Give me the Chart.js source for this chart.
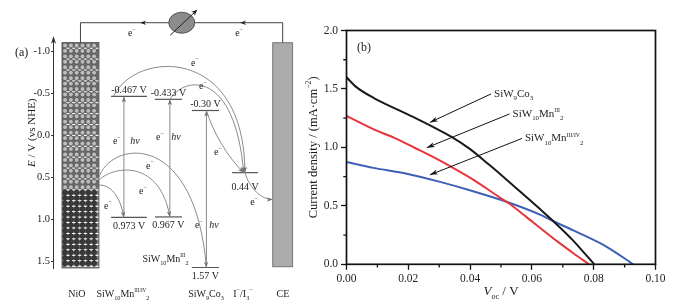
<!DOCTYPE html>
<html><head><meta charset="utf-8">
<script src="https://cdn.jsdelivr.net/npm/chart.js@4.4.0/dist/chart.umd.min.js"></script>
<style>
html,body{margin:0;padding:0;background:#fff;}
#wrap{position:relative;width:674px;height:308px;overflow:hidden;background:#fff;}
#ca{position:absolute;left:0;top:0;width:300px;height:308px;}
#cb{position:absolute;left:290px;top:0;width:384px;height:308px;}
</style></head><body>
<div id="wrap"><canvas id="ca" width="300" height="308"></canvas><canvas id="cb" width="384" height="308"></canvas></div>
<script>
// ---------------- DATA ----------------
// Panel (b): J-V curves (V_oc / V, current density / mA cm^-2)
const seriesNames = ['SiW_{9}Co_{3}', 'SiW_{10}Mn^{III}_{2}', 'SiW_{10}Mn^{III/IV}_{2}'];
const vCo3  = [0, 0.003, 0.009, 0.016, 0.022, 0.028, 0.034, 0.040, 0.046, 0.052, 0.058, 0.0627, 0.0669, 0.0733, 0.0775, 0.0802];
const jCo3  = [1.60, 1.52, 1.42, 1.33, 1.255, 1.175, 1.09, 0.985, 0.855, 0.72, 0.58, 0.47, 0.37, 0.205, 0.08, 0];
const vMn3  = [0, 0.0092, 0.0157, 0.0222, 0.0286, 0.0335, 0.041, 0.0497, 0.0525, 0.058, 0.0627, 0.068, 0.0734, 0.0785];
const jMn3  = [1.27, 1.15, 1.08, 0.995, 0.91, 0.84, 0.725, 0.57, 0.522, 0.41, 0.31, 0.20, 0.095, 0];
const vMn34 = [0, 0.0087, 0.0195, 0.0303, 0.041, 0.0518, 0.0626, 0.0669, 0.0734, 0.0842, 0.0928];
const jMn34 = [0.875, 0.825, 0.775, 0.705, 0.625, 0.535, 0.425, 0.37, 0.29, 0.15, 0];
const xTicksB = [0, 0.02, 0.04, 0.06, 0.08, 0.10];
const yTicksB = [0, 0.5, 1.0, 1.5, 2.0];
const xMinorB = [0.01, 0.03, 0.05, 0.07, 0.09];
const yMinorB = [0.25, 0.75, 1.25, 1.75];

// Panel (a): energy levels, E / V vs NHE
const dyes = ['SiW_{10}Mn^{III/IV}_{2}', 'SiW_{10}Mn^{III}_{2}', 'SiW_{9}Co_{3}'];
const lumo = [-0.467, -0.433, -0.30];
const homo = [0.973, 0.967, 1.57];
const lumoDigits = [3, 3, 2];
const homoDigits = [3, 3, 2];
const redoxName = 'I^{−}/I_{3}^{−}';
const redox = [0.44];
const eTicksA = [-1.0, -0.5, 0.0, 0.5, 1.0, 1.5];

// ---------------- LAYOUT (panel a, x in 0..100 units) ----------------
const colA = {
  nio: [3.7, 19.0], nioTop: -1.11, nioBot: 1.575, nioVB: 0.62,
  dye: [[24, 38.8], [42.1, 53.3], [57.4, 68.6]],
  dyeArrow: [29.3, 48.3, 63.4],
  redox: [74.0, 84.7],
  ce: [90.8, 99.0], ceTop: -1.107, ceBot: 1.56,
  wireE: -1.345, meterU: 53.2
};
const FAM = '"Liberation Serif","Times New Roman",Times,serif';
const INK = '#1c1c1c';

function parseMarkup(s){
  const parts=[]; const re=/([_^])\{([^}]*)\}|([^_^]+)/g; let m;
  while((m=re.exec(s))){ if(m[3]) parts.push([m[3],'n']); else parts.push([m[2], m[1]==='_'?'sub':'sup']); }
  return parts;
}
function plain(s){ return s.replace(/[_^]\{([^}]*)\}/g,'$1'); }
function drawParts(ctx, parts, x, yBase, size, align, color){
  const segs = parts.map(([t,m='n',st=''])=>{
    const fs = m==='n'?size:(m==='sup' && /[IVX]/.test(t) ? size*0.52 : size*0.62);
    const f = (st.includes('i')?'italic ':'') + fs+'px '+FAM;
    ctx.font=f; return {t,m,f,w:ctx.measureText(t).width};
  });
  const total = segs.reduce((a,s)=>a+s.w,0);
  let cx = align==='center'?x-total/2:align==='right'?x-total:x;
  ctx.fillStyle=color||INK; ctx.textAlign='left'; ctx.textBaseline='alphabetic';
  segs.forEach(s=>{const dy=s.m==='sub'?size*0.3:s.m==='sup'?-size*0.42:0; ctx.font=s.f; ctx.fillText(s.t,cx,yBase+dy); cx+=s.w;});
  return total;
}
function head(ctx, x, y, ang, len, half, color){
  ctx.save(); ctx.translate(x,y); ctx.rotate(ang);
  ctx.beginPath(); ctx.moveTo(0,0); ctx.lineTo(-len, half); ctx.lineTo(-len*0.7,0); ctx.lineTo(-len,-half); ctx.closePath();
  ctx.fillStyle=color; ctx.fill(); ctx.restore();
}
const eMinus = [['e'],['−','sup']];

// ---------------- PANEL (a) ----------------
function seg(xr, e){ return {data:[{x:xr[0],y:e},{x:xr[1],y:e}], borderColor:'#555', borderWidth:1.2, pointRadius:0, showLine:true}; }
const levelSets = [];
dyes.forEach((d,i)=>{ levelSets.push(Object.assign(seg(colA.dye[i], lumo[i]),{label:plain(d)+' LUMO'})); levelSets.push(Object.assign(seg(colA.dye[i], homo[i]),{label:plain(d)+' HOMO'})); });
levelSets.push(Object.assign(seg(colA.redox, redox[0]),{label:plain(redoxName)}));

function drawNiO(ctx, x0, x1, yTop, yBot, yVB){
  ctx.fillStyle='#6c6c6c'; ctx.fillRect(x0,yTop,x1-x0,yVB-yTop);
  ctx.fillStyle='#7e7e7e'; ctx.fillRect(x0,yVB,x1-x0,yBot-yVB);
  const r=2.45, dx=(x1-x0-1)/6.2, dy=5.45;
  let row=0;
  for(let y=yTop+3; y<yBot-1.5; y+=dy, row++){
    const dark = y>yVB;
    for(let k=0;k<6;k++){
      const cx = x0+3.1+k*dx;
      ctx.beginPath(); ctx.arc(cx,y,r,0,Math.PI*2);
      ctx.fillStyle = dark?'#3a3a3a':'#bdbdbd'; ctx.fill();
      ctx.lineWidth=0.7; ctx.strokeStyle= dark?'#222':'#4d4d4d'; ctx.stroke();
    }
    if(row%2===0 || dark){
      ctx.fillStyle='#ffffff';
      for(let k=0;k<6;k++){ const cx=x0+3.1+k*dx+dx/2; ctx.fillRect(cx-1.8, y+dy/2-0.5, 3.6, 1.1); }
    }
  }
  ctx.strokeStyle='#555'; ctx.lineWidth=0.8; ctx.strokeRect(x0,yTop,x1-x0,yBot-yTop);
}

const pluginA = {
  id:'decorA',
  beforeDatasetsDraw(chart){
    const {ctx, scales:{x,y}} = chart; const X=u=>x.getPixelForValue(u), Y=e=>y.getPixelForValue(e);
    ctx.save();
    drawNiO(ctx, X(colA.nio[0]), X(colA.nio[1]), Y(colA.nioTop), Y(colA.nioBot), Y(colA.nioVB));
    // CE
    ctx.fillStyle='#ababab'; ctx.fillRect(X(colA.ce[0]),Y(colA.ceTop),X(colA.ce[1])-X(colA.ce[0]),Y(colA.ceBot)-Y(colA.ceTop));
    ctx.strokeStyle='#777'; ctx.lineWidth=1; ctx.strokeRect(X(colA.ce[0]),Y(colA.ceTop),X(colA.ce[1])-X(colA.ce[0]),Y(colA.ceBot)-Y(colA.ceTop));
    // wires
    const wY=Y(colA.wireE), xl=(X(colA.nio[0])+X(colA.nio[1]))/2, xr=(X(colA.ce[0])+X(colA.ce[1]))/2;
    ctx.strokeStyle='#444'; ctx.lineWidth=1;
    ctx.beginPath(); ctx.moveTo(xl,Y(colA.nioTop)); ctx.lineTo(xl,wY); ctx.lineTo(xr,wY); ctx.lineTo(xr,Y(colA.ceTop)); ctx.stroke();
    head(ctx, X(36), wY, Math.PI, 6, 2.2, '#222');
    head(ctx, X(77.3), wY, Math.PI, 6, 2.2, '#222');
    // meter
    const mx=X(colA.meterU);
    ctx.beginPath(); ctx.ellipse(mx,wY,13,10.5,0,0,Math.PI*2); ctx.fillStyle='#8c8c8c'; ctx.fill(); ctx.strokeStyle='#555'; ctx.lineWidth=1; ctx.stroke();
    ctx.beginPath(); ctx.moveTo(mx-11.5,wY+12.5); ctx.lineTo(mx+14,wY-11.5); ctx.strokeStyle='#222'; ctx.lineWidth=1; ctx.stroke();
    head(ctx, mx+15.5, wY-13, Math.atan2(-24,25.5), 6, 2.5, '#111');
    drawParts(ctx, eMinus, X(32.6), Y(-1.223)+3.5, 10, 'center');
    drawParts(ctx, eMinus, X(76.9), Y(-1.223)+3.5, 10, 'center');
    ctx.restore();
  },
  afterDatasetsDraw(chart){
    const {ctx, chartArea:ca, scales:{x,y}} = chart; const X=u=>x.getPixelForValue(u), Y=e=>y.getPixelForValue(e);
    ctx.save();
    const gray='#8a8a8a', headC='#707070';
    // vertical excitation arrows
    dyes.forEach((d,i)=>{
      const ax=X(colA.dyeArrow[i]);
      ctx.beginPath(); ctx.moveTo(ax,Y(homo[i])); ctx.lineTo(ax,Y(lumo[i])+1); ctx.strokeStyle=gray; ctx.lineWidth=1; ctx.stroke();
      head(ctx, ax, Y(lumo[i]), -Math.PI/2, 6, 2.2, headC);
    });
    // electron transfer curves [u,E]
    const dC = colA.dyeArrow;
    const curves = [
      {p:[[colA.nio[1],0.492],[24.4,0.051],[58.7,-0.068],[dC[2],homo[2]]], lab:[40.1,0.349]},
      {p:[[colA.nio[1],0.527],[25.6,0.349],[44.2,0.289],[dC[1],homo[1]]], lab:[37.2,0.658]},
      {p:[[colA.nio[1],0.587],[23.6,0.587],[27.7,0.706],[dC[0],homo[0]]], lab:[22.7,0.825]},
      {p:[[colA.dye[0][0]+1,lumo[0]],[33.9,-1.02],[79.3,-1.08],[79.3,redox[0]]], lab:[58.7,-0.877]},
      {p:[[dC[1],lumo[1]],[54.5,-0.72],[75.2,-0.78],[78.8,redox[0]]], lab:[62.0,-0.592]},
      {p:[[dC[2],lumo[2]],[66,-0.05],[72,0.25],[78.8,redox[0]]], lab:[68.2,0.194]},
      {p:[[79.3,redox[0]],[81.4,0.64],[86.4,0.76],[colA.ce[0],0.76]], lab:[83.1,0.789]}
    ];
    curves.forEach(c=>{
      const P=c.p.map(([u,e])=>[X(u),Y(e)]);
      ctx.beginPath(); ctx.moveTo(P[0][0],P[0][1]); ctx.bezierCurveTo(P[1][0],P[1][1],P[2][0],P[2][1],P[3][0],P[3][1]);
      ctx.strokeStyle=gray; ctx.lineWidth=1; ctx.stroke();
      head(ctx, P[3][0], P[3][1], Math.atan2(P[3][1]-P[2][1], P[3][0]-P[2][0]), 6, 2.2, headC);
      drawParts(ctx, eMinus, X(c.lab[0]), Y(c.lab[1])+3.5, 10, 'center');
    });
    // e- hv labels
    const ehv = [[26.4,33.9,0.063],[44.2,50.8,0.015],[60.3,66.5,1.063]];
    ehv.forEach(([ue,uh,e])=>{
      drawParts(ctx, eMinus, X(ue), Y(e)+3.5, 10, 'center');
      drawParts(ctx, [['hν','n','i']], X(uh), Y(e)+3.5, 10, 'center');
    });
    // level labels
    dyes.forEach((d,i)=>{
      const cx=(X(colA.dye[i][0])+X(colA.dye[i][1]))/2;
      drawParts(ctx, [[lumo[i].toFixed(lumoDigits[i])+' V']], cx, Y(lumo[i])-3.5, 10, 'center');
      drawParts(ctx, [[homo[i].toFixed(homoDigits[i])+' V']], cx, Y(homo[i])+11.5, 10, 'center');
    });
    drawParts(ctx, [[redox[0].toFixed(2)+' V']], (X(colA.redox[0])+X(colA.redox[1]))/2, Y(redox[0])+17, 10, 'center');
    // names
    const yb = Y(1.874)+3.5;
    drawParts(ctx, [['NiO']], X(9.9), yb, 10, 'center');
    drawParts(ctx, parseMarkup(dyes[0]), X(28.9), yb, 10, 'center');
    drawParts(ctx, parseMarkup(dyes[2]), X(63.2), yb, 10, 'center');
    drawParts(ctx, parseMarkup(redoxName), X(78.5), yb, 10, 'center');
    drawParts(ctx, [['CE']], X(95.0), yb, 10, 'center');
    drawParts(ctx, parseMarkup(dyes[1]), X(46.5), Y(1.456)+3.5, 10, 'center');
    // axis arrow
    head(ctx, ca.left+0.5, ca.top-1, -Math.PI/2, 8, 2.6, '#333');
    // y title
    ctx.save(); ctx.translate(31.5, Y(0)-3); ctx.rotate(-Math.PI/2);
    drawParts(ctx, [['E','n','i'],[' / V (vs NHE)']], 0, 3.8, 11, 'center');
    ctx.restore();
    drawParts(ctx, [['(a)']], 15, 56, 12, 'left');
    ctx.restore();
  }
};

new Chart(document.getElementById('ca'), {
  type:'scatter',
  data:{ datasets: levelSets },
  options:{
    responsive:false, animation:false,
    layout:{padding:{top:37,right:5,bottom:40,left:0}},
    plugins:{legend:{display:false}, tooltip:{enabled:false}},
    scales:{
      x:{type:'linear', min:0, max:100, display:false},
      y:{type:'linear', reverse:true, min:-1.175, max:1.575,
         afterBuildTicks:s=>{ s.ticks = eTicksA.map(v=>({value:v})); },
         afterFit:s=>{ s.width=53; },
         ticks:{font:{family:FAM,size:10.5}, color:'#222', padding:1, callback:v=>Number(v).toFixed(1)},
         grid:{display:true, drawOnChartArea:false, tickLength:2, tickColor:'#333', tickWidth:1},
         border:{display:true, color:'#333', width:1}}
    }
  },
  plugins:[pluginA]
});

// ---------------- PANEL (b) ----------------
const pts = (xs, ys) => xs.map((v,i)=>({x:v, y:ys[i]}));
const colorsB = ['#1a1a1a', '#e8343c', '#3d5fb5'];
const seriesB = [pts(vCo3,jCo3), pts(vMn3,jMn3), pts(vMn34,jMn34)];
const annB = [ // text left x, text mid y, arrow tip x, arrow tip y (data units)
  [0.0471, 1.466, 0.027, 1.214],
  [0.0531, 1.295, 0.026, 0.998],
  [0.0571, 1.085, 0.027, 0.765]
];
const pluginB = {
  id:'decorB',
  afterDraw(chart){
    const {ctx, chartArea:ca, scales:{x,y}} = chart;
    ctx.save();
    ctx.strokeStyle='#111'; ctx.lineWidth=1.7;
    ctx.strokeRect(ca.left, ca.top, ca.right-ca.left, ca.bottom-ca.top);
    ctx.lineWidth=1.3; ctx.beginPath();
    xMinorB.forEach(v=>{const px=x.getPixelForValue(v); ctx.moveTo(px,ca.bottom); ctx.lineTo(px,ca.bottom+3.2);});
    yMinorB.forEach(v=>{const py=y.getPixelForValue(v); ctx.moveTo(ca.left,py); ctx.lineTo(ca.left-3.2,py);});
    ctx.stroke();
    // annotations
    annB.forEach((a,i)=>{
      const tx=x.getPixelForValue(a[0]), ty=y.getPixelForValue(a[1]);
      const hx=x.getPixelForValue(a[2]), hy=y.getPixelForValue(a[3]);
      const sx=tx-1, sy=ty+1;
      ctx.beginPath(); ctx.moveTo(sx,sy); ctx.lineTo(hx,hy); ctx.strokeStyle='#111'; ctx.lineWidth=1; ctx.stroke();
      head(ctx, hx, hy, Math.atan2(hy-sy,hx-sx), 8, 2.6, '#111');
      drawParts(ctx, parseMarkup(seriesNames[i]), tx+2, ty+4, 11, 'left');
    });
    // x title
    const cx=(ca.left+ca.right)/2;
    drawParts(ctx, [['V','n','i'],['oc','sub'],[' / V']], cx, 295, 13, 'center');
    // y title
    ctx.save(); ctx.translate(22.5,(ca.top+ca.bottom)/2); ctx.rotate(-Math.PI/2);
    drawParts(ctx, [['Current density / (mA·cm'],['−2','sup'],[')']], 0, 4.2, 12.5, 'center');
    ctx.restore();
    drawParts(ctx, [['(b)']], ca.left+10.5, ca.top+20.5, 12, 'left');
    ctx.restore();
  }
};
new Chart(document.getElementById('cb'), {
  type:'scatter',
  data:{ datasets: seriesB.map((d,i)=>({label:plain(seriesNames[i]), data:d, showLine:true, borderColor:colorsB[i], backgroundColor:colorsB[i], borderWidth:2, pointRadius:0, cubicInterpolationMode:'monotone'})) },
  options:{
    responsive:false, animation:false,
    layout:{padding:{top:30.5,right:18.5,bottom:0,left:0}},
    plugins:{legend:{display:false}, tooltip:{enabled:false}},
    scales:{
      x:{type:'linear', min:0, max:0.10,
         afterBuildTicks:s=>{ s.ticks = xTicksB.map(v=>({value:v})); },
         afterFit:s=>{ s.height=43.7; },
         ticks:{font:{family:FAM,size:11.5}, color:'#222', padding:2, maxRotation:0, callback:v=>Number(v).toFixed(2)},
         grid:{display:true, drawOnChartArea:false, tickLength:5.5, tickColor:'#111', tickWidth:1.3},
         border:{display:false}},
      y:{type:'linear', min:0, max:2.0,
         afterBuildTicks:s=>{ s.ticks = yTicksB.map(v=>({value:v})); },
         afterFit:s=>{ s.width=56.5; },
         ticks:{font:{family:FAM,size:11.5}, color:'#222', padding:3, callback:v=>Number(v).toFixed(1)},
         grid:{display:true, drawOnChartArea:false, tickLength:5.5, tickColor:'#111', tickWidth:1.3},
         border:{display:false}}
    }
  },
  plugins:[pluginB]
});
</script>
</body></html>
